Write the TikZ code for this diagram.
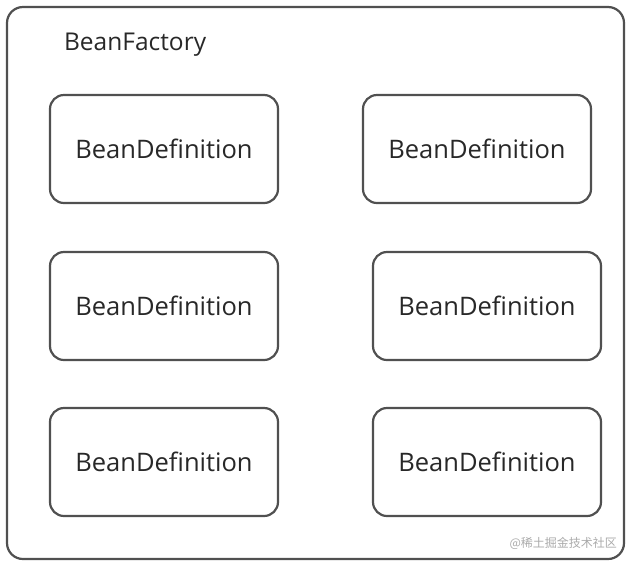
\documentclass[tikz,border=0pt]{standalone}
\usepackage{fontspec}
\setmainfont{Open Sans}
\newfontfamily\cjk{Noto Sans CJK SC}
\tikzset{every picture/.style={line width=2.2pt}}
\tikzset{defbox/.style={draw={rgb,255:red,80;green,80;blue,80},rounded corners=14pt,minimum width=228pt,minimum height=108pt,inner sep=0pt,text={rgb,255:red,40;green,40;blue,40},font=\fontsize{25.5}{30}\selectfont}}
\begin{document}
\begin{tikzpicture}[x=1pt,y=-1pt]
\useasboundingbox (0,0) rectangle (634,566);

%Outer frame
\draw [color={rgb, 255:red, 80; green, 80; blue, 80 }][rounded corners=16pt] (7,7) rectangle (624,559) ;

% Text Node
\node (factory) [anchor=west,inner sep=0pt,text={rgb,255:red,40;green,40;blue,40},font=\fontsize{24.5}{30}\selectfont] at (63,45) {BeanFactory};

% Boxes
\node (def1) [defbox] at (164,149) {BeanDefinition};
\node (def2) [defbox] at (477,149) {BeanDefinition};
\node (def3) [defbox] at (164,306) {BeanDefinition};
\node (def4) [defbox] at (487,306) {BeanDefinition};
\node (def5) [defbox] at (164,462) {BeanDefinition};
\node (def6) [defbox] at (487,462) {BeanDefinition};

% Watermark
\node (mark) [anchor=east,inner sep=0pt,text={rgb,255:red,170;green,170;blue,170},font=\cjk\fontsize{12}{14}\selectfont] at (618,543) {@稀土掘金技术社区};
\end{tikzpicture}
\end{document}
